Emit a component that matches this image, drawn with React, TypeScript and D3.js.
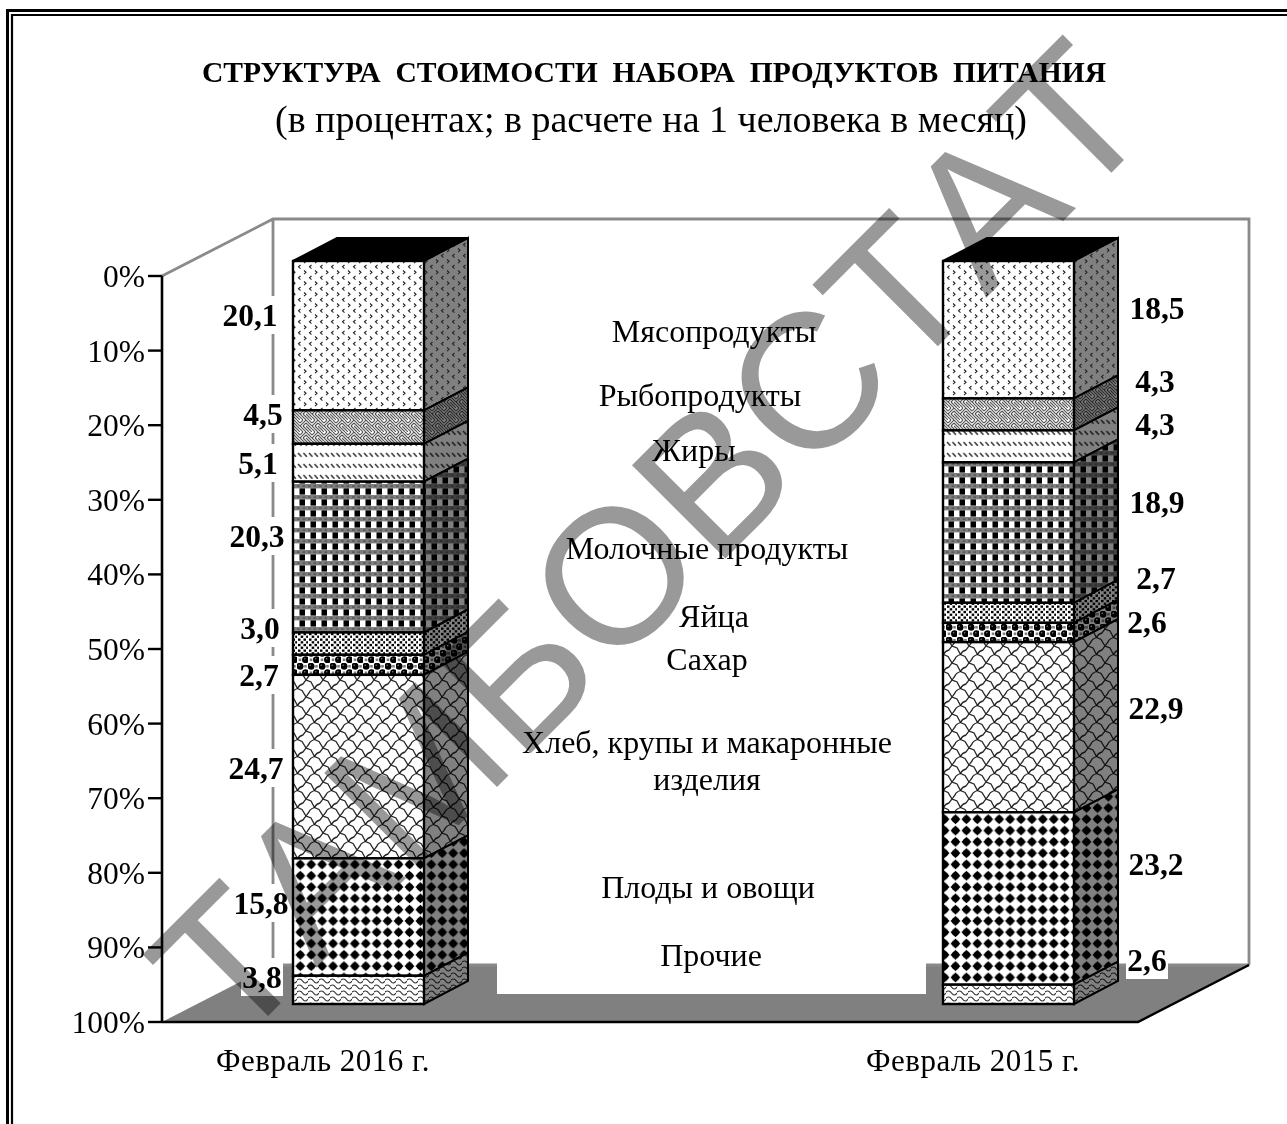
import React from 'react';
import * as d3 from 'd3';

const W = 1287, H = 1124;
const FONT = '"Liberation Serif", serif';

const titleMain = 'СТРУКТУРА  СТОИМОСТИ  НАБОРА  ПРОДУКТОВ  ПИТАНИЯ';
const titleSub = '(в процентах; в расчете на 1 человека в месяц)';
const watermark = 'ТАМБОВСТАТ';
const periods = ['Февраль 2016 г.', 'Февраль 2015 г.'];
const categories = ['Мясопродукты', 'Рыбопродукты', 'Жиры', 'Молочные продукты', 'Яйца', 'Сахар', 'Хлеб, крупы и макаронные\nизделия', 'Плоды и овощи', 'Прочие'];
const feb2016 = [20.1, 4.5, 5.1, 20.3, 3.0, 2.7, 24.7, 15.8, 3.8];
const feb2015 = [18.5, 4.3, 4.3, 18.9, 2.7, 2.6, 22.9, 23.2, 2.6];
const ticks = [0, 10, 20, 30, 40, 50, 60, 70, 80, 90, 100];

// label placement, separate from the data
const labelX2016 = [250, 263, 258, 257, 260, 259, 256, 261, 262];
const labelY2016 = [315, 414, 463, 536, 628, 675, 768, 903, 977];
const labelX2015 = [1157, 1155, 1155, 1157, 1156, 1147, 1156, 1156, 1147];
const labelY2015 = [308, 381, 424, 502, 578, 622, 708, 864, 960];
const catX = [714, 700, 694, 707, 714, 707, 707, 708, 711];
const catY = [332, 396, 451, 549, 617, 660, 743, 888, 956];

const yAxis = d3.scaleLinear().domain([0, 100]).range([276, 1022]);
const yBar = d3.scaleLinear().domain([0, 100]).range([261, 1004]);
const xBar = d3.scalePoint<string>().domain(periods).range([293, 943]);
const barW = 131, depX = 44, depY = -23;
const wallDX = 111, wallDY = -57;
const axisX = 162, frontRight = 1138;

const wave = (w: number, a: number) => `M-1 3 Q${w / 4} ${3 - a} ${w / 2} 3 T${w} 3`;

function tile(i: number) {
  const k = '#000';
  switch (i) {
    case 0: // < > marks
      return { w: 11, h: 11, el: (
        <g fill="none" stroke="#222" strokeWidth={1.1}>
          <path d="M3.5 1 L1.5 2.8 L3.5 4.6" />
          <path d="M7 6.5 L9 8.3 L7 10.1" />
        </g>) };
    case 1: // basket weave
      return { w: 12, h: 12, el: (
        <g fill="none" stroke="#000" strokeOpacity={0.65} strokeWidth={1.1}>
          <path d="M0 3 L3 0 M3 6 L6 3 M0 6 L6 0 M6 6 L9 9 M9 6 L12 9 M6 9 L9 12 M9 9 L12 12" />
          <path d="M6 0 L12 6 M6 3 L9 6 M9 0 L12 3 M0 6 L6 12 M0 9 L3 12 M3 6 L6 9" />
        </g>) };
    case 2: // rows of backslashes
      return { w: 5.5, h: 11, el: <path d="M1 2 L4.4 5.8" stroke="#000" strokeOpacity={0.8} strokeWidth={1.5} /> };
    case 3: // grid with squares and grey bands
      return { w: 11, h: 11, el: (
        <g>
          <rect x={2.5} y={4.4} width={5.5} height={6.2} fill={k} />
          <rect x={0} y={0} width={11} height={4.4} fill="#000" fillOpacity={0.5} />
          <rect x={0} y={1.4} width={2.7} height={1.4} fill={k} fillOpacity={0.35} />
          <rect x={5.5} y={1.4} width={2.7} height={1.4} fill={k} fillOpacity={0.35} />
        </g>) };
    case 4: // staggered dots
      return { w: 11, h: 11, el: (
        <g fill={k}>
          {[[1, 0.5], [6.5, 0.5], [3.7, 3.2], [9.2, 3.2], [1, 5.9], [6.5, 5.9], [3.7, 8.6], [9.2, 8.6]].map(([x, y], j) =>
            <rect key={j} x={x} y={y} width={2.5} height={2.3} />)}
        </g>) };
    case 5: // balls
      return { w: 11, h: 13, el: (
        <g>
          <circle cx={3} cy={3.2} r={3.5} fill={k} />
          <circle cx={8.5} cy={9.7} r={3.5} fill={k} />
          <circle cx={2.2} cy={2.2} r={0.8} fill="#777" />
          <circle cx={7.7} cy={8.7} r={0.8} fill="#777" />
          <rect x={7.2} y={2} width={2.6} height={2.6} fill={k} fillOpacity={0.5} />
          <rect x={1.7} y={8.5} width={2.6} height={2.6} fill={k} fillOpacity={0.5} />
        </g>) };
    case 6: // interlocked pavers
      return { w: 17, h: 17, el: (
        <g fill="none" stroke="#000" strokeOpacity={0.85} strokeWidth={1.3}>
          <path d="M0 0 L5 2 L8.5 8.5 L13 10.5 L17 17" />
          <path d="M8.5 8.5 Q10 5 14 4 L17 0 M0 17 L3 13 Q4 10 8.5 8.5" />
        </g>) };
    case 7: // diamonds
      return { w: 10.92, h: 11.3, el: (
        <g fill={k}>
          <circle cx={5.46} cy={5.65} r={3.5} />
          <path d="M5.46 0.6 L10.4 5.65 L5.46 10.7 L0.5 5.65 Z" />
        </g>) };
    default: // waves
      return { w: 11, h: 6, el: <path d={wave(11, 4)} fill="none" stroke="#000" strokeOpacity={0.8} strokeWidth={1.2} /> };
  }
}

function Pattern({ i, side }: { i: number; side: boolean }) {
  const t = tile(i);
  return (
    <pattern id={`p${i}${side ? 's' : 'f'}`} patternUnits="userSpaceOnUse" width={t.w} height={t.h}>
      <rect width={t.w} height={t.h} fill={side ? '#808080' : '#fff'} />
      {t.el}
    </pattern>
  );
}

function Bar({ period, values }: { period: string; values: number[] }) {
  const x0 = xBar(period) as number;
  const x1 = x0 + barW;
  const cum = d3.cumsum(values);
  const tops = [0, ...cum.slice(0, -1)];
  return (
    <g stroke="#000" strokeLinejoin="miter">
      <path d={`M${x0} ${yBar(0)} L${x0 + depX} ${yBar(0) + depY} L${x1 + depX} ${yBar(0) + depY} L${x1} ${yBar(0)} Z`} fill="#000" strokeWidth={2} />
      {values.map((v, i) => {
        const a = yBar(tops[i]), b = yBar(tops[i] + v);
        return (
          <g key={i}>
            <path d={`M${x1} ${a} L${x1 + depX} ${a + depY} L${x1 + depX} ${b + depY} L${x1} ${b} Z`} fill={`url(#p${i}s)`} strokeWidth={2} />
            <rect x={x0} y={a} width={barW} height={b - a} fill={`url(#p${i}f)`} strokeWidth={2.4} />
          </g>
        );
      })}
    </g>
  );
}

function ValueLabel({ x, y, text }: { x: number; y: number; text: string }) {
  const w = text.length === 3 ? 42 : 58;
  return (
    <g>
      <rect x={x - w / 2} y={y - 19} width={w} height={38} fill="#fff" />
      <text x={x} y={y + 11} textAnchor="middle" fontFamily={FONT} fontWeight={700} fontSize={31.5} fill="#000">{text}</text>
    </g>
  );
}

export default function App() {
  const fl = (v: number) => String(v.toFixed(1)).replace('.', ',');
  const backY = yAxis(100) + wallDY;
  const backTop = yAxis(0) + wallDY;
  const backX = axisX + wallDX;
  const backR = frontRight + wallDX;
  const c = (i: number) => categories[i].split('\n');
  return (
    <svg width={W} height={H} viewBox={`0 0 ${W} ${H}`} style={{ position: 'absolute', left: 0, top: 0, background: '#fff' }}>
      <defs>
        {categories.map((_, i) => <Pattern key={`f${i}`} i={i} side={false} />)}
        {categories.map((_, i) => <Pattern key={`s${i}`} i={i} side={true} />)}
      </defs>

      {/* page frame */}
      <path d={`M7.5 ${H} V10.5 H${W}`} fill="none" stroke="#000" strokeWidth={3} />
      <path d={`M12 ${H} V15 H${W}`} fill="none" stroke="#000" strokeWidth={2.2} />

      {/* title */}
      <text x={654} y={82} textAnchor="middle" fontFamily={FONT} fontWeight={700} fontSize={29.6} style={{ whiteSpace: 'pre' }}>{titleMain}</text>
      <text x={651} y={132} textAnchor="middle" fontFamily={FONT} fontSize={38}>{titleSub}</text>

      {/* floor and walls */}
      <path d={`M${axisX} ${yAxis(100)} L${backX} ${backY} L${backR} ${backY} L${frontRight} ${yAxis(100)} Z`} fill="#808080" />
      <path d={`M${axisX} ${yAxis(0)} L${backX} ${backTop} H${backR} V${backY} M${backX} ${backTop} V${backY} H${backR}`} fill="none" stroke="#8a8a8a" strokeWidth={2.8} />
      <path d={`M${axisX} ${yAxis(100)} H${frontRight} L${backR} ${backY}`} fill="none" stroke="#000" strokeWidth={2.4} />

      {/* white box behind the category labels */}
      <rect x={497} y={930} width={429} height={64} fill="#fff" />

      {categories.map((_, i) => (
        <text key={i} textAnchor="middle" fontFamily={FONT} fontSize={32} fill="#000">
          {c(i).map((line, j) => <tspan key={j} x={catX[i]} y={catY[i] + 10 + j * 37}>{line}</tspan>)}
        </text>
      ))}

      {/* y axis */}
      <path d={`M${axisX} ${yAxis(0)} V${yAxis(100)}`} stroke="#000" strokeWidth={2.6} />
      {ticks.map(t => (
        <g key={t}>
          <path d={`M${axisX - 14} ${yAxis(t)} H${axisX}`} stroke="#000" strokeWidth={2.4} />
          <text x={145} y={yAxis(t) + 11} textAnchor="end" fontFamily={FONT} fontSize={31.5} fill="#000">{t}%</text>
        </g>
      ))}

      {/* value labels, bars */}
      {feb2016.map((v, i) => <ValueLabel key={i} x={labelX2016[i]} y={labelY2016[i]} text={fl(v)} />)}
      {feb2015.map((v, i) => <ValueLabel key={i} x={labelX2015[i]} y={labelY2015[i]} text={fl(v)} />)}
      <Bar period={periods[0]} values={feb2016} />
      <Bar period={periods[1]} values={feb2015} />

      {/* period labels */}
      {periods.map(p => (
        <text key={p} x={(xBar(p) as number) + 30} y={1071} textAnchor="middle" fontFamily={FONT} fontSize={31} letterSpacing={0.5}>{p}</text>
      ))}

      {/* watermark */}
      <text transform="translate(233 1051) rotate(-45)" fontFamily='"Liberation Sans", sans-serif' fontSize={192} fill="#999" style={{ mixBlendMode: 'multiply', fontKerning: 'none' }}>{watermark}</text>
    </svg>
  );
}
